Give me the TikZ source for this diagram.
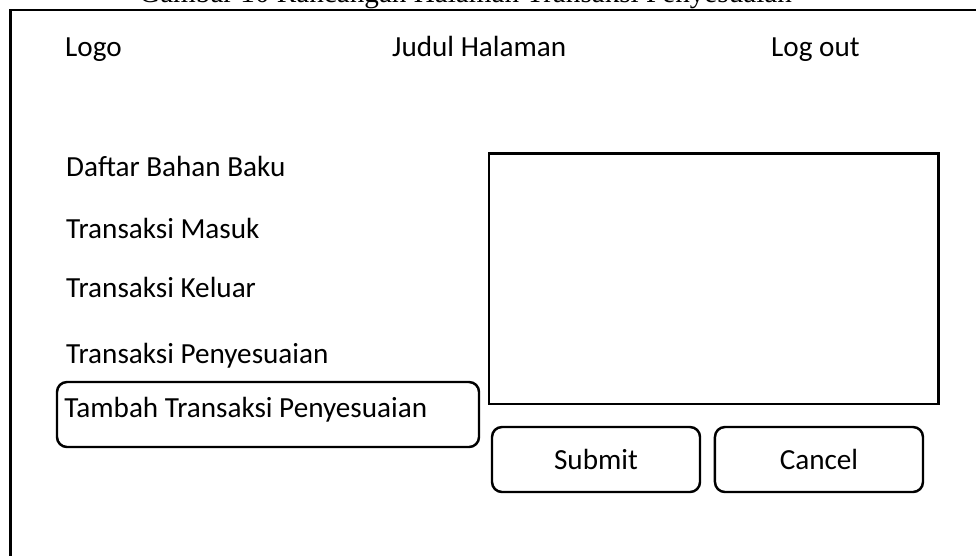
\documentclass[tikz,border=0pt]{standalone}
\usepackage{fontspec}
\setmainfont{Carlito}
\newfontfamily\capfont{Liberation Serif}
\usetikzlibrary{positioning}

\begin{document}
\begin{tikzpicture}[x=0.2mm, y=-0.2mm, line width=1.4pt, font=\fontsize{16.6}{19}\selectfont]
			\tikzstyle{menutext} = [inner sep=0pt, anchor=base west]
			\tikzstyle{roundbox} = [draw, rounded corners=2mm, minimum height=13mm, inner sep=0pt]
			\tikzstyle{btn} = [roundbox, minimum width=41.6mm]
			\useasboundingbox (0,0) rectangle (976,555);

			\node[menutext, font=\capfont\fontsize{16.6}{20}\selectfont] (caption) at (138,3) {Gambar 10 Rancangan Halaman Transaksi Penyesuaian};
			\draw (10.5,10) rectangle (1010,600);

			\node[menutext] (logo) at (64,57) {Logo};
			\node[menutext] (judul) at (391,57) {Judul Halaman};
			\node[menutext] (logout) at (770,57) {Log out};

			\node[menutext] (daftar) at (65,176) {Daftar Bahan Baku};
			\node[menutext] (masuk) at (65,238) {Transaksi Masuk};
			\node[menutext] (keluar) at (65,297) {Transaksi Keluar};
			\node[menutext] (penyesuaian) at (65,363) {Transaksi Penyesuaian};
			\node[roundbox, minimum width=84.4mm, text width=81.4mm, align=flush left, text height=11pt, text depth=8pt] (tambah) at (268,414.5) {Tambah Transaksi Penyesuaian};

			\draw (489,153.5) rectangle (938.5,404);
			\node[btn] (submit) at (596,459.5) {Submit};
			\node[btn, right=2.5mm of submit] (cancel) {Cancel};
\end{tikzpicture}
\end{document}
